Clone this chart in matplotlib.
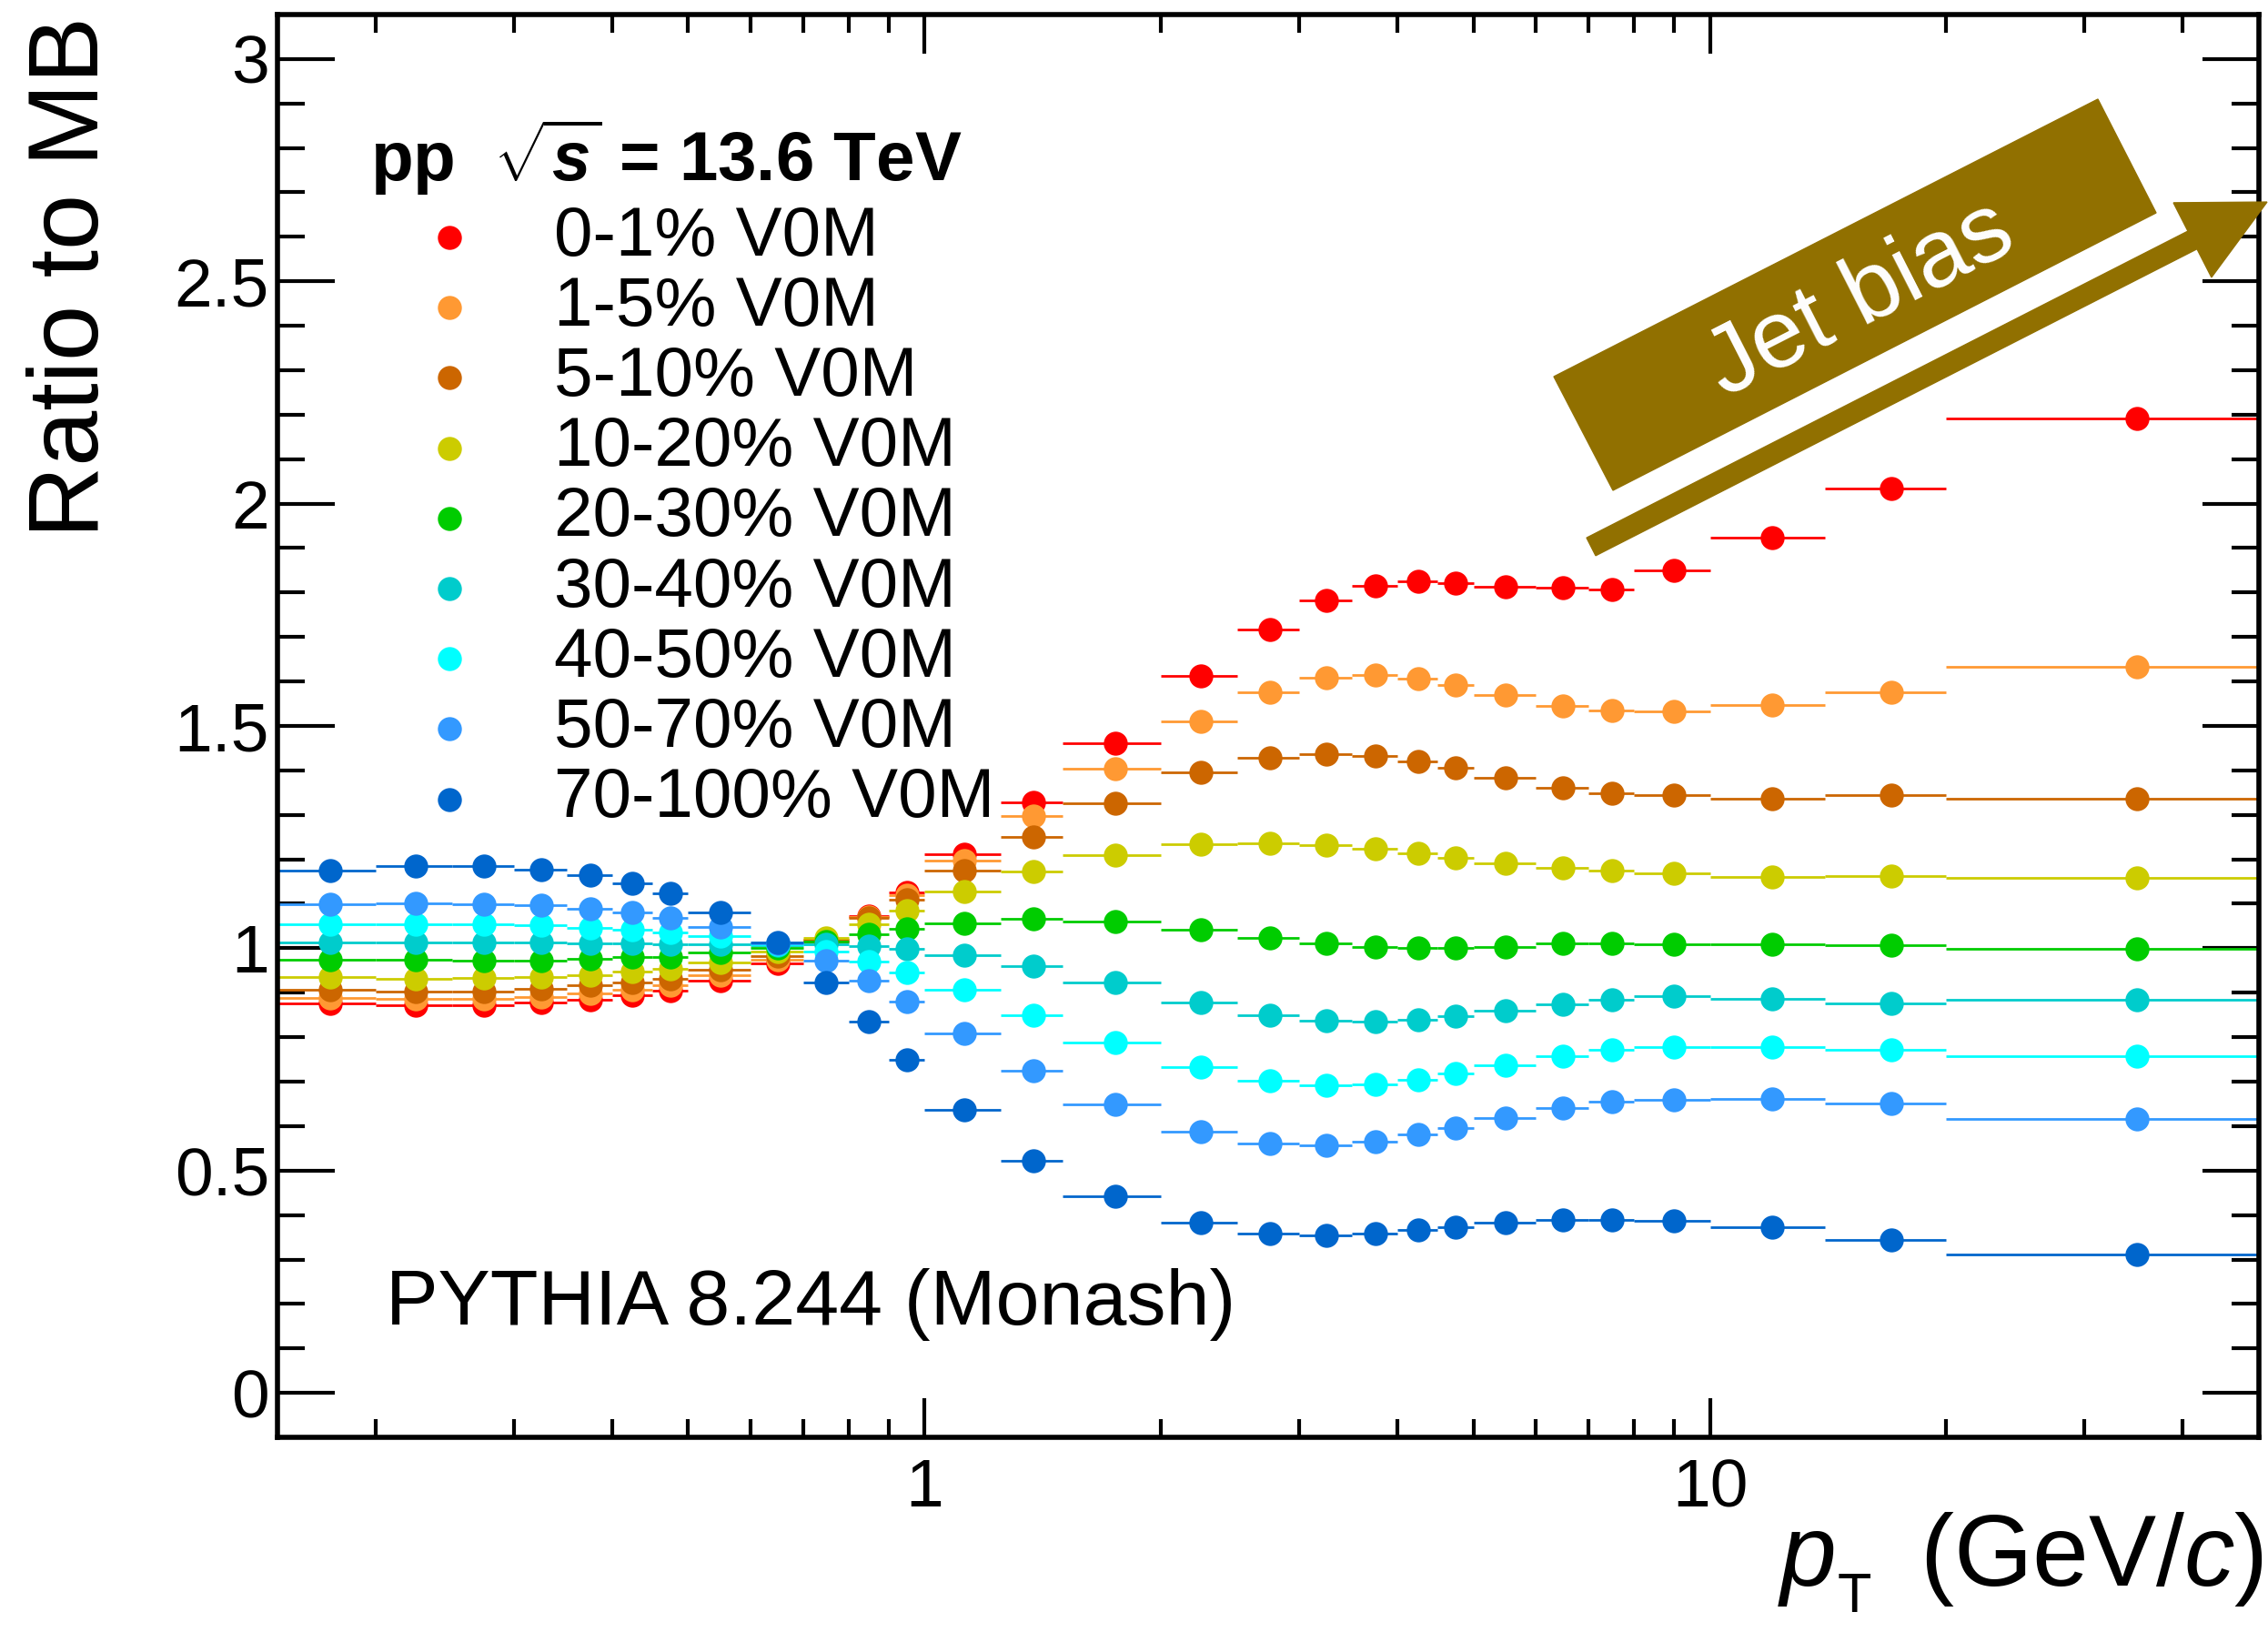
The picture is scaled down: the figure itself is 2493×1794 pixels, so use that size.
import numpy as np
import matplotlib
matplotlib.use("Agg")
import matplotlib.pyplot as plt
from matplotlib.patches import Polygon
from matplotlib.lines import Line2D
from matplotlib.ticker import FixedLocator, FixedFormatter

plt.rcParams['font.family'] = ['Liberation Sans', 'DejaVu Sans']
plt.rcParams['mathtext.fontset'] = 'custom'
plt.rcParams['mathtext.rm'] = 'Liberation Sans'
plt.rcParams['mathtext.it'] = 'Liberation Sans:italic'
plt.rcParams['mathtext.bf'] = 'Liberation Sans:bold'
plt.rcParams['mathtext.bfit'] = 'Liberation Sans:bold:italic'

# pT binning (GeV/c)
pt_edges = np.array([0.15, 0.2, 0.25, 0.3, 0.35, 0.4, 0.45, 0.5, 0.6, 0.7, 0.8, 0.9, 1.0,
                     1.25, 1.5, 2.0, 2.5, 3.0, 3.5, 4.0, 4.5, 5.0, 6.0, 7.0, 8.0, 10.0,
                     14.0, 20.0, 50.0])

labels = ["0-1% V0M", "1-5% V0M", "5-10% V0M", "10-20% V0M", "20-30% V0M",
          "30-40% V0M", "40-50% V0M", "50-70% V0M", "70-100% V0M"]
colors = ["#ff0000", "#ff9933", "#cc6600", "#cccc00", "#00cc00",
          "#00cccc", "#00ffff", "#3399ff", "#0066cc"]

# ratio of the multiplicity-class spectrum to minimum bias
r_0_1 = [0.875, 0.872, 0.872, 0.877, 0.884, 0.894, 0.904, 0.928, 0.967, 1.016, 1.072, 1.125,
         1.212, 1.329, 1.462, 1.612, 1.717, 1.782, 1.815, 1.826, 1.821, 1.814, 1.812, 1.807,
         1.849, 1.924, 2.033, 2.191]
r_1_5 = [0.889, 0.886, 0.886, 0.891, 0.898, 0.906, 0.917, 0.939, 0.975, 1.019, 1.070, 1.120,
         1.198, 1.297, 1.403, 1.510, 1.576, 1.609, 1.615, 1.607, 1.592, 1.570, 1.545, 1.534,
         1.533, 1.547, 1.575, 1.634]
r_5_10 = [0.906, 0.903, 0.903, 0.908, 0.916, 0.923, 0.932, 0.951, 0.983, 1.020, 1.068, 1.109,
          1.174, 1.251, 1.327, 1.395, 1.428, 1.437, 1.433, 1.420, 1.406, 1.383, 1.361, 1.348,
          1.345, 1.337, 1.345, 1.336]
r_10_20 = [0.935, 0.932, 0.934, 0.935, 0.939, 0.947, 0.953, 0.968, 0.992, 1.023, 1.053, 1.084,
           1.127, 1.173, 1.209, 1.235, 1.237, 1.232, 1.223, 1.213, 1.203, 1.192, 1.181, 1.174,
           1.168, 1.161, 1.162, 1.158]
r_20_30 = [0.975, 0.974, 0.973, 0.973, 0.976, 0.980, 0.980, 0.990, 1.001, 1.016, 1.031, 1.044,
           1.057, 1.066, 1.060, 1.042, 1.023, 1.010, 1.002, 1.000, 1.000, 1.002, 1.010, 1.010,
           1.008, 1.009, 1.007, 0.999]
r_30_40 = [1.014, 1.014, 1.013, 1.013, 1.012, 1.011, 1.009, 1.009, 1.007, 1.009, 1.004, 0.999,
           0.985, 0.960, 0.922, 0.879, 0.850, 0.837, 0.835, 0.839, 0.847, 0.859, 0.874, 0.884,
           0.892, 0.887, 0.876, 0.885]
r_40_50 = [1.053, 1.053, 1.053, 1.052, 1.046, 1.041, 1.036, 1.027, 1.009, 0.993, 0.971, 0.946,
           0.906, 0.850, 0.789, 0.732, 0.702, 0.692, 0.694, 0.705, 0.719, 0.736, 0.757, 0.772,
           0.778, 0.778, 0.771, 0.758]
r_50_70 = [1.098, 1.101, 1.099, 1.096, 1.089, 1.080, 1.069, 1.048, 1.011, 0.973, 0.927, 0.881,
           0.809, 0.725, 0.649, 0.587, 0.560, 0.556, 0.565, 0.582, 0.596, 0.619, 0.641, 0.656,
           0.660, 0.661, 0.650, 0.616]
r_70_100 = [1.175, 1.184, 1.184, 1.176, 1.164, 1.146, 1.123, 1.081, 1.014, 0.924, 0.835, 0.749,
            0.636, 0.523, 0.442, 0.382, 0.359, 0.354, 0.359, 0.366, 0.372, 0.382, 0.389, 0.389,
            0.386, 0.372, 0.343, 0.311]
ratios = [r_0_1, r_1_5, r_5_10, r_10_20, r_20_30, r_30_40, r_40_50, r_50_70, r_70_100]

W, H = 2493, 1794
fig = plt.figure(figsize=(W / 100, H / 100), dpi=100)


def fx(px):
    return px / W


def fy(py):
    return 1 - py / H


ax = fig.add_axes([fx(305), fy(1580), fx(2483) - fx(305), fy(16) - fy(1580)])

lo = pt_edges[:-1]
hi = pt_edges[1:]
pt = 0.5 * (lo + hi)
for vals, c in zip(ratios, colors):
    ax.errorbar(pt, vals, xerr=[pt - lo, hi - pt], fmt='o', color=c, ms=19, mew=0,
                elinewidth=2.0, capsize=0)

ax.set_xscale('log')
ax.set_xlim(0.15, 50)
ax.set_ylim(-0.1, 3.1)

ax.xaxis.set_major_locator(FixedLocator([1, 10]))
ax.xaxis.set_major_formatter(FixedFormatter(["1", "10"]))
ax.xaxis.set_minor_locator(FixedLocator([0.2, 0.3, 0.4, 0.5, 0.6, 0.7, 0.8, 0.9,
                                         2, 3, 4, 5, 6, 7, 8, 9, 20, 30, 40]))
ax.xaxis.set_minor_formatter(FixedFormatter([]))
yt = [0, 0.5, 1, 1.5, 2, 2.5, 3]
ax.yaxis.set_major_locator(FixedLocator(yt))
ax.yaxis.set_major_formatter(FixedFormatter(["0", "0.5", "1", "1.5", "2", "2.5", "3"]))
ax.yaxis.set_minor_locator(FixedLocator(np.round(np.arange(0.1, 3.05, 0.1), 2)))

ax.tick_params(which='both', direction='in', top=True, right=True, width=3.0,
               labelsize=54, color='black')
ax.xaxis.set_tick_params(which='major', length=31, pad=16)
ax.xaxis.set_tick_params(which='minor', length=14.5)
ax.yaxis.set_tick_params(which='major', length=45, pad=6.5)
ax.yaxis.set_tick_params(which='minor', length=21.6)
for s in ax.spines.values():
    s.set_linewidth(4.0)

# axis titles
fig.text(fx(80), fy(18), "Ratio to MB", rotation=90, ha='center', va='top', fontsize=79)
fig.text(fx(1954), fy(1743), r"$p$", ha='left', va='baseline', fontsize=80)
fig.text(fx(2020), fy(1772), "T", ha='left', va='baseline', fontsize=44)
fig.text(fx(2488), fy(1743), r"(GeV/$c$)", ha='right', va='baseline', fontsize=80)

# header and legend
fig.text(fx(407), fy(199), r"pp  $\sqrt{\mathbfit{s}}$ = 13.6 TeV", fontsize=55,
         fontweight='bold', ha='left', va='baseline')
row_y = 261
for lab, c in zip(labels, colors):
    fig.add_artist(Line2D([fx(494)], [fy(row_y)], marker='o', ms=19, mew=0, color=c,
                          transform=fig.transFigure))
    fig.text(fx(609), fy(row_y), lab, fontsize=55, ha='left', va='center')
    row_y += 77.2

fig.text(fx(424), fy(1456), "PYTHIA 8.244 (Monash)", fontsize=62, ha='left', va='baseline')

# "Jet bias" box and arrow
brown = '#917000'
box = [(1708, 414), (1773, 539), (2370, 234), (2306, 109)]
fig.add_artist(Polygon([(fx(x), fy(y)) for x, y in box], closed=True, color=brown,
                       transform=fig.transFigure))
ang = np.arctan2(305, 598)
ux, uy = np.cos(ang), -np.sin(ang)
nx, ny = np.sin(ang), np.cos(ang)
x0, y0 = 1749, 601
shaft_len = 742
half_w = 11
head_w = 46
head_len = 92
bx, by = x0 + ux * shaft_len, y0 + uy * shaft_len
arrow = [
    (x0 - nx * half_w, y0 - ny * half_w),
    (bx - nx * half_w, by - ny * half_w),
    (bx - nx * head_w, by - ny * head_w),
    (bx + ux * head_len, by + uy * head_len),
    (bx + nx * head_w, by + ny * head_w),
    (bx + nx * half_w, by + ny * half_w),
    (x0 + nx * half_w, y0 + ny * half_w),
]
fig.add_artist(Polygon([(fx(x), fy(y)) for x, y in arrow], closed=True, color=brown,
                       transform=fig.transFigure))
fig.text(fx(2045), fy(330), "Jet bias", color='white', fontsize=76, rotation=np.degrees(ang),
         rotation_mode='anchor', ha='center', va='center')

fig.savefig("out.png", dpi=100)
